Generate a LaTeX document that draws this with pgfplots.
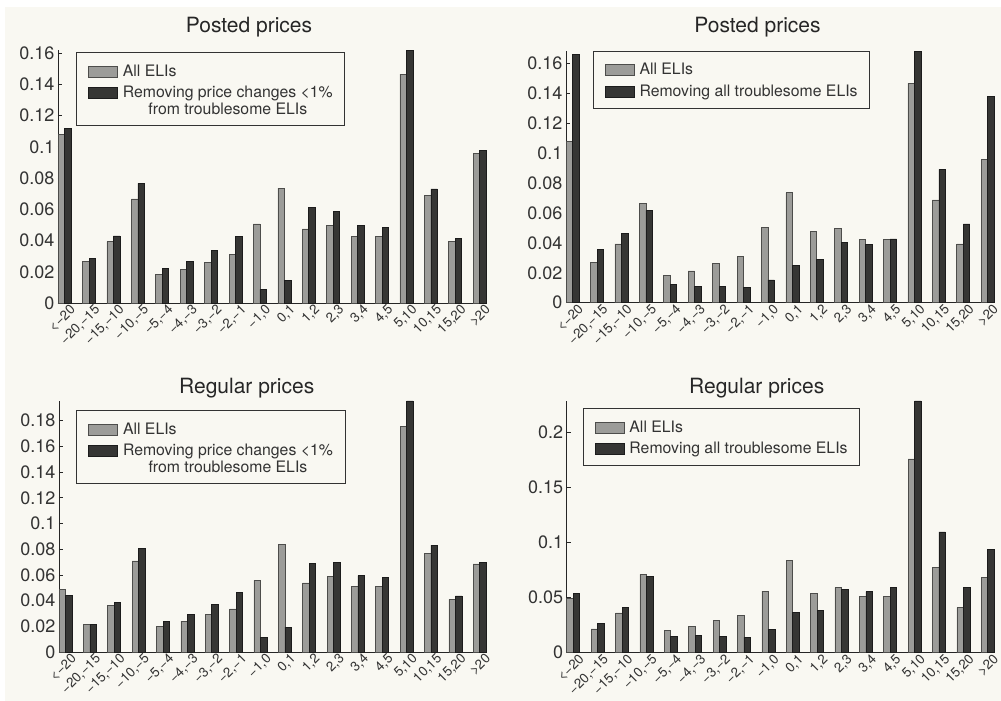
\documentclass[border=0pt]{standalone}
\usepackage{fontspec}
\setmainfont{TeX Gyre Heros}
\usepackage{pgfplots}
\pgfplotsset{compat=1.18}

\definecolor{paper}{HTML}{F9F8F2}
\definecolor{barlight}{HTML}{9C9C99}
\definecolor{barlightedge}{HTML}{4D4D4B}
\definecolor{bardark}{HTML}{363634}
\definecolor{bardarkedge}{HTML}{1C1C1C}

\pgfplotsset{
  eli/.style={
    scale only axis, anchor=south west,
    width=429pt,
    xmin=-0.27, xmax=17.3, ymin=0,
    ybar=0pt, bar width=6.5pt,
    axis x line=bottom, axis y line=left,
    axis line style={-, draw=black!85, line width=0.8pt},
    xtick={0,...,17},
    xticklabels={{<−20},{−20,−15},{−15,−10},{−10,−5},{−5,−4},{−4,−3},{−3,−2},{−2,−1},{−1,0},{0,1},{1,2},{2,3},{3,4},{4,5},{5,10},{10,15},{15,20},{>20}},
    x tick label style={font=\fontsize{13.5}{15}\selectfont, rotate=45, anchor=north east,
      inner sep=1pt, text=black!80, xshift=4pt, yshift=-2.5pt},
    major x tick style={draw=none},
    tick align=inside, major tick length=4pt,
    major y tick style={draw=black!85, line width=0.7pt},
    y tick label style={font=\fontsize{18}{20}\selectfont, text=black!80,
      /pgf/number format/assume math mode=true,
      /pgf/number format/fixed, /pgf/number format/precision=2},
    scaled y ticks=false,
    clip=false,
    legend style={draw=black!80, line width=0.6pt, fill=none,
      font=\fontsize{15.8}{16}\selectfont, text=black!80,
      inner xsep=12pt, inner ysep=6pt, row sep=9.3pt, column sep=5pt,
      nodes={inner sep=0pt, text depth=},
      cells={anchor=base west},
      anchor=north west},
  },
  allbar/.style={fill=barlight, draw=barlightedge, line width=0.6pt,
    legend image code/.code={\draw[##1] (0pt,-0.5pt) rectangle (29pt,10.5pt);}},
  cutbar/.style={fill=bardark, draw=bardarkedge, line width=0.6pt,
    legend image code/.code={\draw[##1] (0pt,-0.5pt) rectangle (29pt,10.5pt);}},
}

\newcommand{\firstentry}{\rule{0pt}{18pt}All ELIs}
\newcommand{\twoline}{\begin{tabular}[t]{@{}c@{}}Removing price changes <1\%\\from troublesome ELIs\end{tabular}}
\newcommand{\oneline}{\rule[-5.7pt]{0pt}{11.2pt}Removing all troublesome ELIs}

\begin{document}
\begin{tikzpicture}
\useasboundingbox (0,0) rectangle (1001pt,701pt);
\fill[white] (0,0) rectangle (1001pt,701pt);
\fill[paper] (5pt,0) rectangle (1001pt,694pt);

% Posted prices, removing small changes
\begin{axis}[eli, at={(58pt,398pt)}, height=253pt, ymax=0.162,
  ytick={0,0.02,0.04,0.06,0.08,0.1,0.12,0.14,0.16},
  legend style={at={(0.042,0.992)}}]
\addplot[allbar] coordinates {(0,0.108) (1,0.0268) (2,0.0393) (3,0.0666) (4,0.0184) (5,0.0213) (6,0.0262) (7,0.0311) (8,0.0506) (9,0.0735) (10,0.0475) (11,0.0497) (12,0.0425) (13,0.0425) (14,0.1466) (15,0.0687) (16,0.0393) (17,0.0956)};
\addlegendentry{\firstentry}
\addplot[cutbar] coordinates {(0,0.1118) (1,0.0284) (2,0.043) (3,0.0766) (4,0.0221) (5,0.0265) (6,0.0335) (7,0.0426) (8,0.0088) (9,0.0144) (10,0.0611) (11,0.0589) (12,0.0497) (13,0.0484) (14,0.1615) (15,0.0731) (16,0.0413) (17,0.0979)};
\addlegendentry{\twoline}
\end{axis}

% Posted prices, removing troublesome ELIs
\begin{axis}[eli, at={(566pt,398.3pt)}, height=252pt, ymax=0.1685,
  ytick={0,0.02,0.04,0.06,0.08,0.1,0.12,0.14,0.16},
  legend style={at={(0.062,1.0)}}]
\addplot[allbar] coordinates {(0,0.108) (1,0.0268) (2,0.0393) (3,0.0666) (4,0.0184) (5,0.0213) (6,0.0262) (7,0.0311) (8,0.0506) (9,0.0735) (10,0.0475) (11,0.0497) (12,0.0425) (13,0.0425) (14,0.1466) (15,0.0687) (16,0.0393) (17,0.0956)};
\addlegendentry{\firstentry}
\addplot[cutbar] coordinates {(0,0.1662) (1,0.0356) (2,0.0462) (3,0.0618) (4,0.0122) (5,0.0107) (6,0.0109) (7,0.0104) (8,0.0153) (9,0.0249) (10,0.0287) (11,0.0402) (12,0.0389) (13,0.0427) (14,0.168) (15,0.0892) (16,0.0527) (17,0.1377)};
\addlegendentry{\oneline}
\end{axis}

% Regular prices, removing small changes
\begin{axis}[eli, at={(59pt,49pt)}, width=428pt, height=251pt, ymax=0.1953,
  ytick={0,0.02,0.04,0.06,0.08,0.1,0.12,0.14,0.16,0.18},
  legend style={at={(0.04,0.964)}}]
\addplot[allbar] coordinates {(0,0.049) (1,0.0215) (2,0.036) (3,0.0709) (4,0.0201) (5,0.024) (6,0.029) (7,0.0336) (8,0.0558) (9,0.0838) (10,0.0538) (11,0.059) (12,0.0511) (13,0.0511) (14,0.1756) (15,0.077) (16,0.0409) (17,0.0685)};
\addlegendentry{\firstentry}
\addplot[cutbar] coordinates {(0,0.0441) (1,0.0212) (2,0.0383) (3,0.0804) (4,0.0239) (5,0.0293) (6,0.0368) (7,0.0461) (8,0.0111) (9,0.0194) (10,0.0688) (11,0.0695) (12,0.0594) (13,0.0579) (14,0.1953) (15,0.0831) (16,0.0436) (17,0.0695)};
\addlegendentry{\twoline}
\end{axis}

% Regular prices, removing troublesome ELIs
\begin{axis}[eli, at={(566.7pt,48.3pt)}, width=428.3pt, height=251.7pt, ymax=0.228,
  ytick={0,0.05,0.1,0.15,0.2},
  legend style={at={(0.037,0.972)}}]
\addplot[allbar] coordinates {(0,0.049) (1,0.0215) (2,0.036) (3,0.0709) (4,0.0201) (5,0.024) (6,0.029) (7,0.0336) (8,0.0558) (9,0.0838) (10,0.0538) (11,0.059) (12,0.0511) (13,0.0511) (14,0.1756) (15,0.077) (16,0.0409) (17,0.0685)};
\addlegendentry{\firstentry}
\addplot[cutbar] coordinates {(0,0.0534) (1,0.0263) (2,0.0407) (3,0.0688) (4,0.0147) (5,0.0154) (6,0.0151) (7,0.0138) (8,0.0208) (9,0.0362) (10,0.0386) (11,0.057) (12,0.0553) (13,0.0591) (14,0.228) (15,0.1095) (16,0.0591) (17,0.0935)};
\addlegendentry{\oneline}
\end{axis}

% panel titles
\node[font=\fontsize{21}{24}\selectfont, text=black!85, anchor=base] at (249pt,668.3pt) {Posted prices};
\node[font=\fontsize{21}{24}\selectfont, text=black!85, anchor=base] at (757.5pt,668.3pt) {Posted prices};
\node[font=\fontsize{21}{24}\selectfont, text=black!85, anchor=base] at (246.7pt,307.7pt) {Regular prices};
\node[font=\fontsize{21}{24}\selectfont, text=black!85, anchor=base] at (756.7pt,307.7pt) {Regular prices};
\end{tikzpicture}
\end{document}
